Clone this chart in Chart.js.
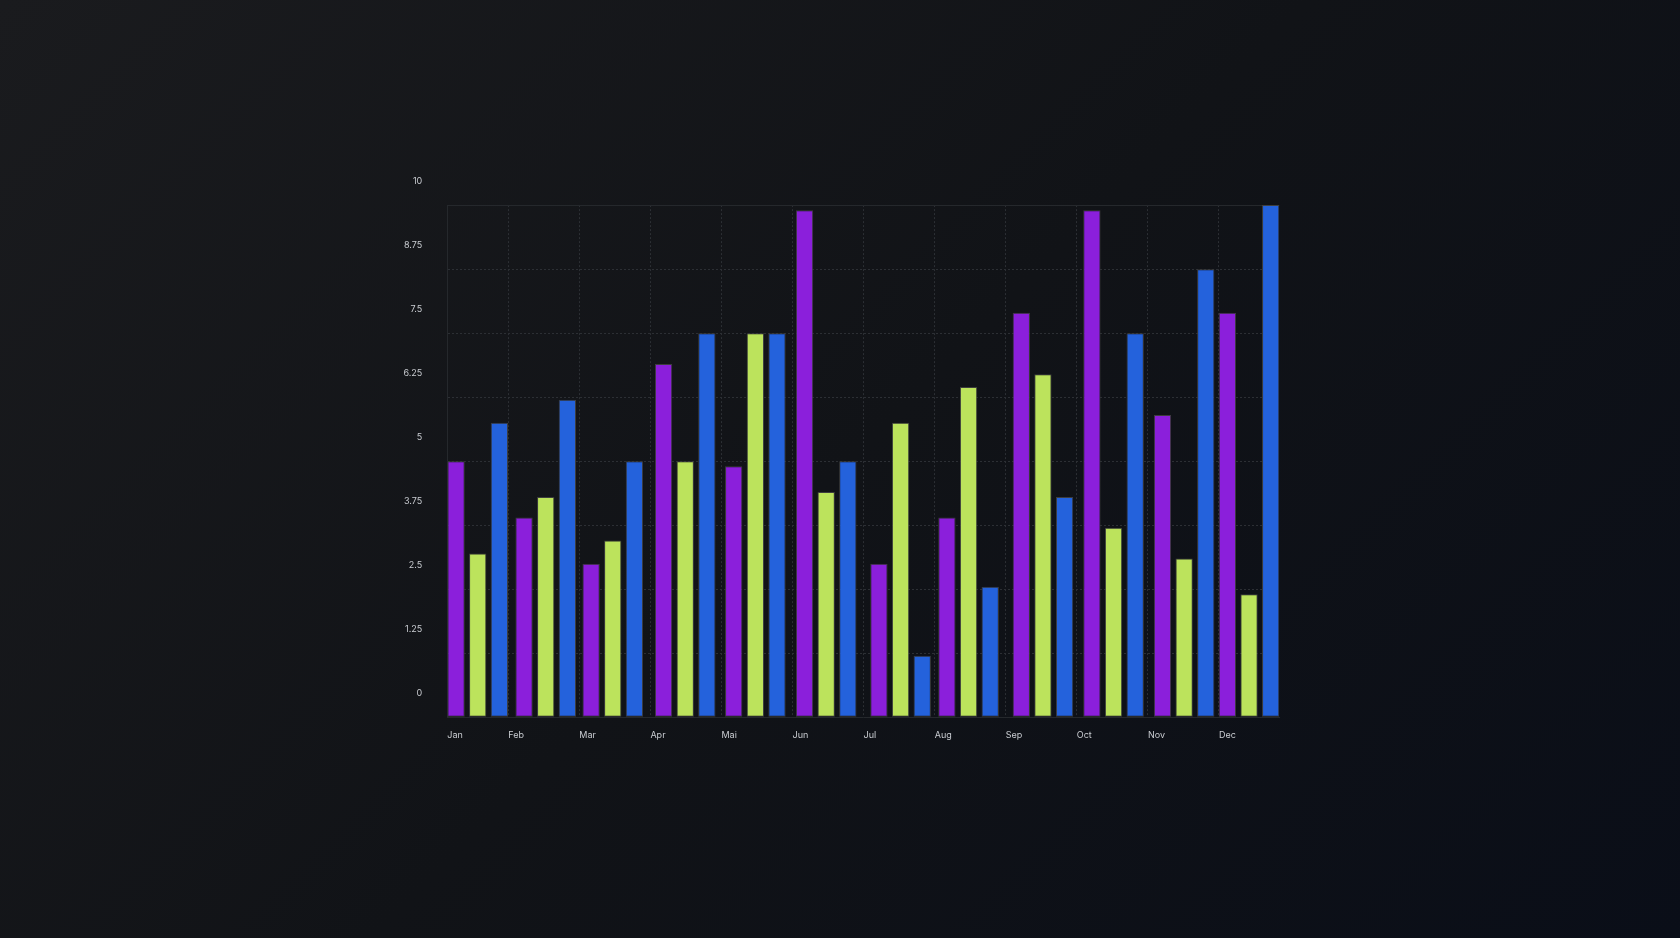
<!DOCTYPE html>
<html>
<head>
<meta charset="utf-8">
<script src="https://cdn.jsdelivr.net/npm/chart.js@4.4.1/dist/chart.umd.min.js"></script>
<style>
  html, body { margin: 0; padding: 0; width: 1680px; height: 938px; overflow: hidden; }
  body { background: linear-gradient(135deg, #1a1b1e 0%, #111317 50%, #0a0e18 100%); }
  #wrap { position: absolute; left: 0; top: 0; width: 1680px; height: 938px; }
</style>
</head>
<body>
<div id="wrap"><canvas id="barChart"></canvas></div>
<script>
var months = ['Jan', 'Feb', 'Mar', 'Apr', 'Mai', 'Jun', 'Jul', 'Aug', 'Sep', 'Oct', 'Nov', 'Dec'];
// day of month each group sits on
var days = [17.1, 15.8, 14.1, 14.7, 14.3, 14.2, 15.6, 14.3, 15.7, 15.5, 15.3, 12.7];
var purpleValues = [5, 3.9, 3, 6.9, 4.9, 9.9, 3, 3.9, 7.9, 9.9, 5.9, 7.9];
var greenValues = [3.2, 4.3, 3.45, 5, 7.5, 4.4, 5.75, 6.45, 6.7, 3.7, 3.1, 2.4];
var blueValues = [5.75, 6.2, 5, 7.5, 7.5, 5, 1.2, 2.55, 4.3, 7.5, 8.75, 10];
var yTicks = [0, 1.25, 2.5, 3.75, 5, 6.25, 7.5, 8.75, 10];

var xMin = 0.142;
var xMax = 11.849;

function points(values) {
  return values.map(function (v, i) {
    return { x: i + days[i] / 30, y: v };
  });
}

function dataset(values, color) {
  return {
    data: points(values),
    backgroundColor: color,
    borderColor: 'rgba(66,66,66,0.9)',
    borderWidth: 1,
    borderSkipped: false,
    categoryPercentage: 1.065,
    barPercentage: 0.8
  };
}

var gridColor = '#2c2f34';
var lineColor = '#25282c';
var labelFont = { family: 'Inter, "Noto Sans", sans-serif', size: 9 };
var labelColor = '#c9ccd1';

new Chart('barChart', {
  type: 'bar',
  data: {
    datasets: [
      dataset(purpleValues, '#8b1fdb'),
      dataset(greenValues, '#bce35c'),
      dataset(blueValues, '#2462dc')
    ]
  },
  options: {
    responsive: true,
    maintainAspectRatio: false,
    animation: false,
    layout: { padding: { left: 367.3, right: 400.7, top: 205.1, bottom: 190.7 } },
    plugins: { legend: { display: false }, tooltip: { enabled: false } },
    scales: {
      x: {
        type: 'linear',
        min: xMin,
        max: xMax,
        offset: false,
        afterBuildTicks: function (scale) {
          scale.ticks = months.map(function (m, i) {
            return { value: Math.max(i, xMin) };
          });
        },
        afterFit: function (scale) { scale.height = 30; },
        grid: {
          offset: false,
          drawTicks: false,
          color: function (ctx) { return ctx.index === 0 ? 'rgba(0,0,0,0)' : gridColor; }
        },
        border: { display: true, color: lineColor, width: 1, dash: [2, 2] },
        ticks: {
          autoSkip: false,
          maxRotation: 0,
          align: 'start',
          padding: 13,
          color: labelColor,
          font: labelFont,
          callback: function (value, index) { return months[index]; }
        }
      },
      y: {
        min: 0,
        max: 10,
        afterBuildTicks: function (scale) {
          scale.ticks = yTicks.map(function (v) { return { value: v }; });
        },
        afterFit: function (scale) { scale.width = 80; },
        grid: {
          drawTicks: false,
          color: function (ctx) { return ctx.tick && ctx.tick.value === 10 ? lineColor : gridColor; }
        },
        border: {
          display: true,
          color: lineColor,
          width: 1,
          dash: function (ctx) { return ctx.tick && ctx.tick.value === 10 ? [] : [2, 2]; }
        },
        ticks: {
          autoSkip: false,
          padding: 25,
          labelOffset: -24,
          color: labelColor,
          font: labelFont,
          callback: function (value) { return String(value); }
        }
      }
    }
  }
});
</script>
</body>
</html>
